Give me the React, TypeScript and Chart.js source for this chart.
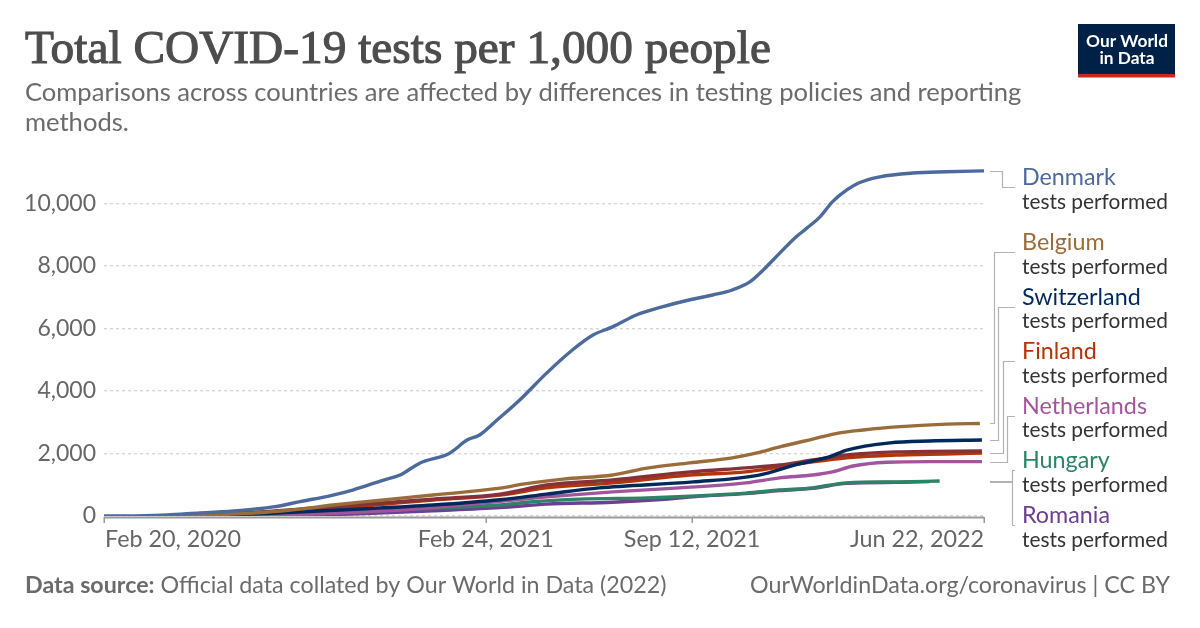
import React, { useEffect, useRef } from "react";
import { Chart, registerables } from "chart.js";
Chart.register(...registerables);

// ---- Data (x = days since Feb 20, 2020) ----
const xTickDays = [0, 370, 570, 853];
const xTickLabels = ["Feb 20, 2020", "Feb 24, 2021", "Sep 12, 2021", "Jun 22, 2022"];
const yTickValues = [0, 2000, 4000, 6000, 8000, 10000];

const countries = ["Denmark", "Belgium", "Switzerland", "Finland", "Netherlands", "Hungary", "Romania"];
const metricLabel = "tests performed";

const denmarkDays = [0, 30, 61, 93, 130, 164, 190, 222, 241, 271, 287, 306, 335, 352, 364, 381, 403, 429, 454, 474, 493, 516, 541, 567, 590, 609, 626, 639, 655, 671, 681, 694, 706, 720, 732, 752, 784, 817, 853];
const denmarkTests = [0, 5, 30, 100, 170, 290, 460, 670, 830, 1150, 1310, 1690, 2010, 2430, 2590, 3070, 3710, 4570, 5310, 5790, 6050, 6430, 6690, 6910, 7070, 7230, 7490, 7870, 8410, 8930, 9200, 9570, 10050, 10430, 10660, 10850, 10970, 11010, 11040];

const belgiumDays = [77, 157, 190, 222, 254, 319, 384, 406, 445, 493, 526, 568, 609, 632, 655, 687, 713, 736, 768, 817, 849];
const belgiumTests = [0, 120, 220, 350, 460, 670, 890, 1020, 1180, 1310, 1530, 1700, 1860, 2010, 2210, 2460, 2660, 2750, 2850, 2940, 2960];

const switzerlandDays = [77, 157, 254, 319, 384, 429, 480, 571, 635, 672, 703, 720, 762, 800, 851];
const switzerlandTests = [0, 80, 230, 350, 520, 700, 900, 1090, 1310, 1650, 1890, 2110, 2340, 2400, 2430];

const finlandDays = [77, 157, 222, 254, 319, 384, 429, 493, 568, 622, 655, 687, 720, 768, 851];
const finlandTests = [0, 130, 250, 330, 510, 670, 900, 1060, 1310, 1410, 1570, 1730, 1860, 1950, 2010];

const otherDays = [77, 157, 254, 319, 384, 429, 493, 568, 622, 655, 687, 720, 768, 851];
const otherTests = [0, 140, 380, 540, 700, 990, 1150, 1410, 1540, 1630, 1790, 1950, 2050, 2080];

const netherlandsDays = [100, 200, 300, 364, 429, 493, 558, 622, 655, 687, 706, 726, 759, 800, 851];
const netherlandsTests = [0, 60, 220, 410, 610, 770, 900, 1060, 1220, 1310, 1410, 1600, 1720, 1740, 1740];

const hungaryDays = [150, 190, 254, 319, 384, 413, 461, 526, 574, 622, 655, 687, 720, 768, 810];
const hungaryTests = [0, 50, 140, 250, 350, 450, 540, 580, 640, 730, 830, 900, 1060, 1090, 1120];

const romaniaDays = [180, 254, 319, 384, 429, 493, 540, 574, 622, 655, 687, 720, 768, 800];
const romaniaTests = [0, 80, 170, 270, 380, 440, 530, 625, 715, 815, 885, 1045, 1075, 1100];

// ---- Styles ----
const seriesColors = ["#4C6A9C", "#9A6C3A", "#00295B", "#B13507", "#A2559C", "#2C8465", "#6D3E91"];
const otherColor = "#883039";
const connectorX = [1002, 994, 998, 1003, 1007, 1012, 1012];
const legendBaselines = [185, 250, 304.6, 359.2, 413.8, 468.4, 523];

const titleText = "Total COVID-19 tests per 1,000 people";
const subtitleLines = [
  "Comparisons across countries are affected by differences in testing policies and reporting",
  "methods.",
];
const sourceBold = "Data source:";
const sourceText = " Official data collated by Our World in Data (2022)";
const rightFooter = "OurWorldinData.org/coronavirus | CC BY";

function pts(days: number[], vals: number[]) {
  return days.map((d, i) => ({ x: d, y: vals[i] }));
}

const seriesData = [
  pts(denmarkDays, denmarkTests),
  pts(belgiumDays, belgiumTests),
  pts(switzerlandDays, switzerlandTests),
  pts(finlandDays, finlandTests),
  pts(netherlandsDays, netherlandsTests),
  pts(hungaryDays, hungaryTests),
  pts(romaniaDays, romaniaTests),
];

function fit(ctx: CanvasRenderingContext2D, text: string, weight: string, family: string, target: number) {
  ctx.font = `${weight} 100px ${family}`;
  const w = ctx.measureText(text).width;
  return (100 * target) / w;
}

const overlayPlugin = {
  id: "overlay",
  beforeDatasetsDraw(chart: any) {
    const ctx = chart.ctx as CanvasRenderingContext2D;
    const area = chart.chartArea;
    const xs = chart.scales.x;
    ctx.save();
    ctx.strokeStyle = "#9a9a9a";
    ctx.lineWidth = 2;
    ctx.beginPath();
    ctx.moveTo(area.left, area.bottom + 1.5);
    ctx.lineTo(area.right, area.bottom + 1.5);
    ctx.stroke();
    ctx.lineWidth = 1.5;
    xTickDays.forEach((d) => {
      const x = Math.round(xs.getPixelForValue(d));
      ctx.beginPath();
      ctx.moveTo(x + 0.25, area.bottom + 1);
      ctx.lineTo(x + 0.25, area.bottom + 7);
      ctx.stroke();
    });
    ctx.restore();
  },
  afterDraw(chart: any) {
    const ctx = chart.ctx as CanvasRenderingContext2D;
    const area = chart.chartArea;
    const xs = chart.scales.x;
    const ys = chart.scales.y;
    ctx.save();
    ctx.textBaseline = "alphabetic";

    // x tick labels
    ctx.fillStyle = "#666666";
    const xls = fit(ctx, xTickLabels[0], "normal", "Lato", 136);
    ctx.font = `${xls}px Lato`;
    xTickDays.forEach((d, i) => {
      const x = xs.getPixelForValue(d);
      ctx.textAlign = i === 0 ? "left" : i === xTickDays.length - 1 ? "right" : "center";
      ctx.fillText(xTickLabels[i], i === 0 ? x + 1 : x, 547);
    });

    // Title
    ctx.textAlign = "left";
    ctx.fillStyle = "#4d4d4d";
    ctx.strokeStyle = "#4d4d4d";
    const ts = fit(ctx, titleText, "normal", "'Liberation Serif'", 746);
    ctx.font = `${ts}px 'Liberation Serif'`;
    ctx.lineWidth = 1.1;
    ctx.fillText(titleText, 25, 63);
    ctx.strokeText(titleText, 25, 63);

    // Subtitle
    ctx.fillStyle = "#6b6b6b";
    const ss = fit(ctx, subtitleLines[0], "normal", "Lato", 997);
    ctx.font = `${ss}px Lato`;
    ctx.fillText(subtitleLines[0], 25, 101);
    ctx.fillText(subtitleLines[1], 25, 131);

    // Footer
    ctx.fillStyle = "#6b6b6b";
    const fs = fit(ctx, sourceBold + sourceText, "normal", "Lato", 640);
    ctx.font = `bold ${fs}px Lato`;
    ctx.fillText(sourceBold, 25, 593);
    const bw = ctx.measureText(sourceBold).width;
    ctx.font = `${fs}px Lato`;
    ctx.fillText(sourceText, 25 + bw, 593);
    ctx.textAlign = "right";
    ctx.fillText(rightFooter, 1170, 593);

    // Logo
    ctx.fillStyle = "#002147";
    ctx.fillRect(1078, 24, 97, 53);
    ctx.fillStyle = "#CE261E";
    ctx.fillRect(1078, 74, 97, 3.5);
    ctx.fillStyle = "#ffffff";
    ctx.textAlign = "center";
    const ls = fit(ctx, "Our World", "bold", "Lato", 82);
    ctx.font = `bold ${ls}px Lato`;
    ctx.fillText("Our World", 1127, 47);
    ctx.fillText("in Data", 1127, 64);

    // Legend with connectors
    ctx.textAlign = "left";
    const nameSize = fit(ctx, "Denmark", "normal", "Lato", 94);
    const metricSize = fit(ctx, metricLabel, "normal", "Lato", 146);
    ctx.strokeStyle = "#b3b3b3";
    ctx.lineWidth = 1.2;
    countries.forEach((name, i) => {
      const data = seriesData[i];
      const last = data[data.length - 1].y;
      const y0 = Math.round(ys.getPixelForValue(last)) + 0.5;
      const xv = connectorX[i] + 0.5;
      const base = legendBaselines[i];
      const yt = Math.round(base + 2) + 0.5;
      ctx.beginPath();
      ctx.moveTo(area.right + 6, y0);
      ctx.lineTo(xv, y0);
      ctx.lineTo(xv, yt);
      ctx.lineTo(1015, yt);
      ctx.stroke();
      ctx.fillStyle = seriesColors[i];
      ctx.font = `${nameSize}px Lato`;
      ctx.fillText(name, 1022, base);
      ctx.fillStyle = "#333333";
      ctx.font = `${metricSize}px Lato`;
      ctx.fillText(metricLabel, 1022, base + 23.5);
    });

    ctx.restore();
  },
};

export default function App() {
  const canvasRef = useRef<HTMLCanvasElement | null>(null);

  useEffect(() => {
    const canvas = canvasRef.current;
    if (!canvas) return;
    const mk = (label: string, data: any[], color: string) => ({
      label,
      data,
      borderColor: color,
      backgroundColor: color,
      borderWidth: 3.4,
      pointRadius: 0,
      pointHoverRadius: 0,
      fill: false,
      cubicInterpolationMode: "monotone" as const,
      borderCapStyle: "butt" as const,
      borderJoinStyle: "round" as const,
    });
    const datasets = [
      mk(countries[0], seriesData[0], seriesColors[0]),
      mk(countries[1], seriesData[1], seriesColors[1]),
      mk(countries[2], seriesData[2], seriesColors[2]),
      mk("Other", pts(otherDays, otherTests), otherColor),
      mk(countries[3], seriesData[3], seriesColors[3]),
      mk(countries[4], seriesData[4], seriesColors[4]),
      mk(countries[5], seriesData[5], seriesColors[5]),
      mk(countries[6], seriesData[6], seriesColors[6]),
    ];
    const chart = new Chart(canvas, {
      type: "line",
      data: { datasets },
      options: {
        animation: false,
        responsive: false,
        devicePixelRatio: 1,
        parsing: false as any,
        normalized: true,
        layout: { padding: { top: 169, right: 216, bottom: 112, left: 0 } },
        plugins: { legend: { display: false }, tooltip: { enabled: false } },
        events: [],
        scales: {
          x: {
            type: "linear",
            display: false,
            min: 0,
            max: 853,
          },
          y: {
            type: "linear",
            min: 0,
            max: 11100,
            afterFit: (scale: any) => {
              scale.width = 104;
            },
            afterBuildTicks: (scale: any) => {
              scale.ticks = yTickValues.map((v) => ({ value: v }));
            },
            grid: { color: "#d6d6d6", lineWidth: 1.4, drawTicks: false },
            border: { display: false, dash: [3, 3] },
            ticks: {
              color: "#666666",
              font: { family: "Lato", size: 23 },
              padding: 8,
              callback: (v: any) => Number(v).toLocaleString("en-US"),
            },
          },
        },
      },
      plugins: [overlayPlugin],
    });
    return () => chart.destroy();
  }, []);

  return (
    <div style={{ position: "absolute", left: 0, top: 0, width: 1200, height: 628, background: "#fff" }}>
      <canvas ref={canvasRef} width={1200} height={628} style={{ display: "block" }} />
    </div>
  );
}
